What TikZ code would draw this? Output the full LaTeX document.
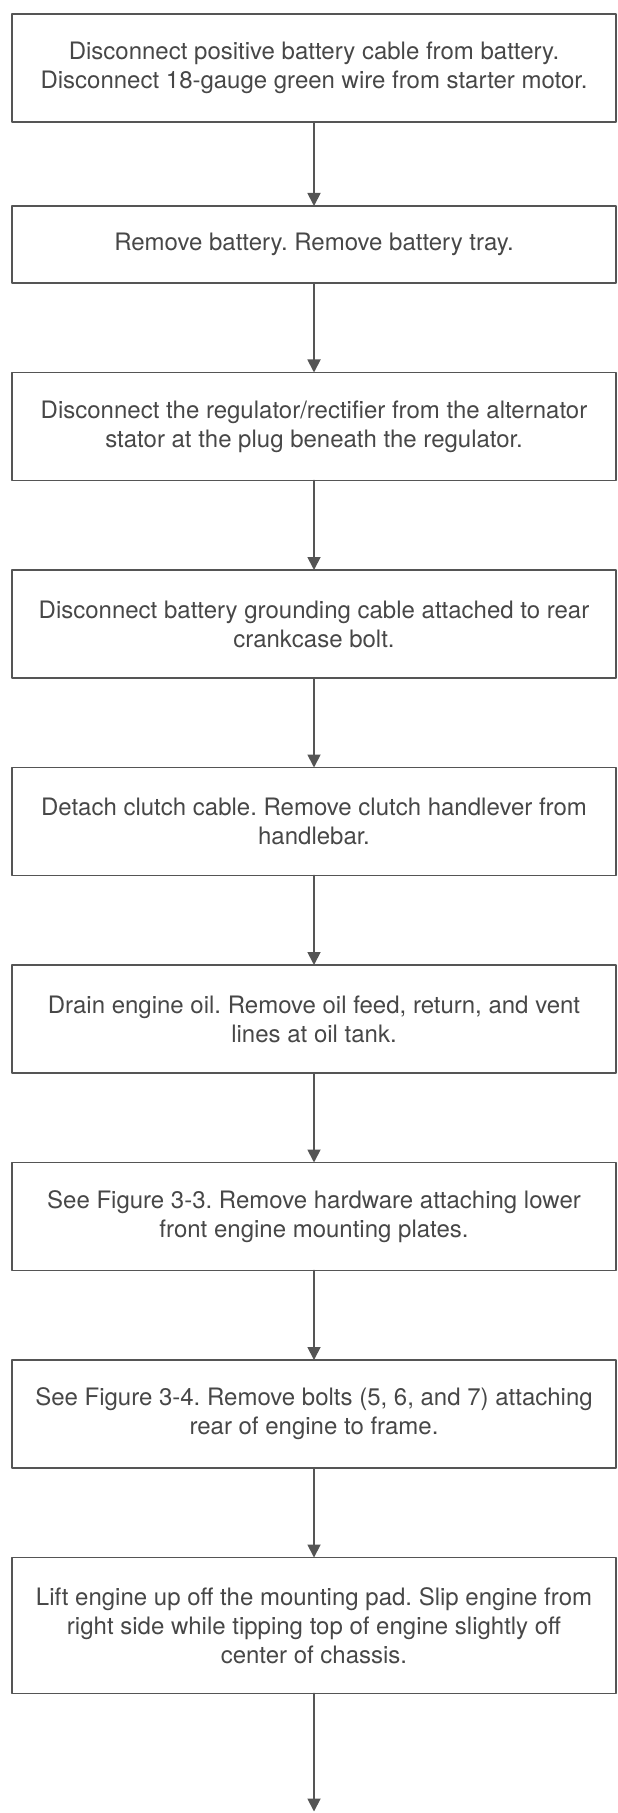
\documentclass[tikz,border=0pt]{standalone}
\usepackage{fontspec}
\setmainfont{TeX Gyre Heros}
\usetikzlibrary{positioning,arrows.meta}
\definecolor{ink}{HTML}{474747}
\definecolor{rule}{HTML}{555555}
\frenchspacing
\begin{document}
\begin{tikzpicture}[font=\fontsize{12}{14.5}\selectfont, line join=round, line cap=round,
		>={Triangle[length=6.5pt,width=6.5pt]}, node distance=44.75pt,
		stepbox/.style={draw=rule, line width=0.8pt, text=ink, align=center, minimum width=302pt, minimum height=54pt, inner sep=0pt, outer sep=0pt},
		link/.style={->, draw=rule, line width=0.9pt}]
			\useasboundingbox (0,0) rectangle (308.5pt,-906.5pt);
			\node[stepbox] (s1) at (157pt,-34pt) {Disconnect positive battery cable from battery.\\Disconnect 18-gauge green wire from starter motor.};
			\node[stepbox, minimum height=38.5pt, below=42pt of s1] (s2) {Remove battery. Remove battery tray.};
			\node[stepbox, below=of s2] (s3) {Disconnect the regulator/rectifier from the alternator\\stator at the plug beneath the regulator.};
			\node[stepbox, below=of s3] (s4) {Disconnect battery grounding cable attached to rear\\crankcase bolt.};
			\node[stepbox, below=of s4] (s5) {Detach clutch cable. Remove clutch handlever from\\handlebar.};
			\node[stepbox, below=of s5] (s6) {Drain engine oil. Remove oil feed, return, and vent\\lines at oil tank.};
			\node[stepbox, below=of s6] (s7) {See Figure 3-3. Remove hardware attaching lower\\front engine mounting plates.};
			\node[stepbox, below=of s7] (s8) {See Figure 3-4. Remove bolts (5, 6, and 7) attaching\\rear of engine to frame.};
			\node[stepbox, minimum height=68pt, below=of s8] (s9) {Lift engine up off the mounting pad. Slip engine from\\right side while tipping top of engine slightly off\\center of chassis.};
			\coordinate[below=59pt of s9] (next);
			\foreach \a/\b in {1/2,2/3,3/4,4/5,5/6,6/7,7/8,8/9}\draw[link] (s\a) -- (s\b);
			\draw[link] (s9) -- (next);
		\end{tikzpicture}
\end{document}
